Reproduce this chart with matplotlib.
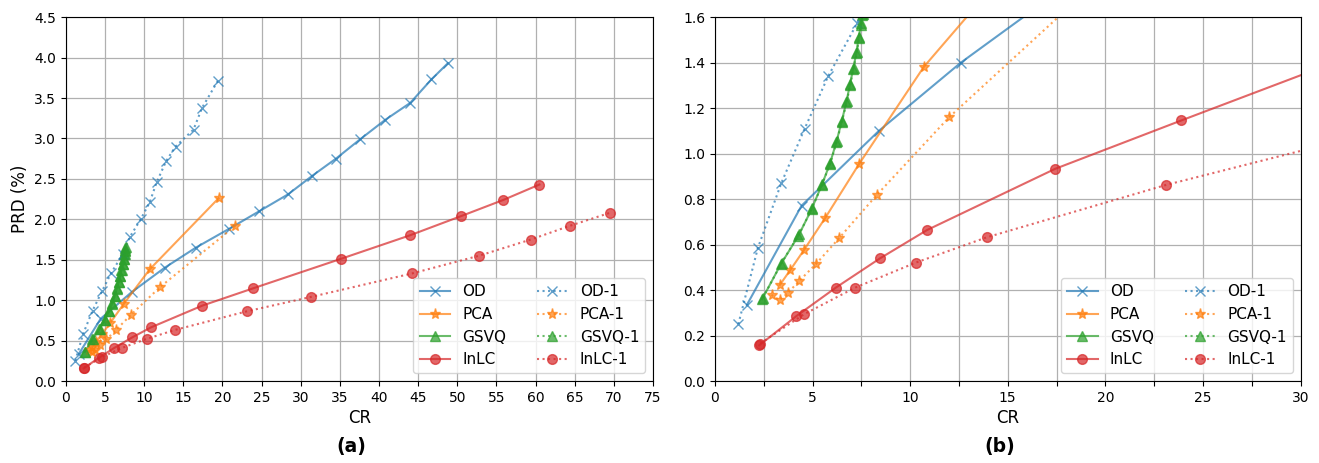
import matplotlib
matplotlib.use("Agg")
import matplotlib.pyplot as plt
from matplotlib.ticker import MultipleLocator, FuncFormatter

# ---- data (CR, PRD %) ----
od_cr = [1.64, 4.44, 8.4, 12.6, 16.6, 20.8, 24.7, 28.4, 31.5, 34.5, 37.6, 40.8, 44.0, 46.7, 48.8]
od_prd = [0.335, 0.771, 1.10, 1.40, 1.65, 1.88, 2.10, 2.31, 2.54, 2.75, 2.99, 3.23, 3.44, 3.73, 3.93]

od1_cr = [1.2, 2.2, 3.4, 4.6, 5.8, 7.3, 8.15, 9.55, 10.7, 11.6, 12.8, 14.0, 16.3, 17.4, 19.4]
od1_prd = [0.25, 0.585, 0.87, 1.11, 1.34, 1.575, 1.78, 2.0, 2.21, 2.46, 2.72, 2.90, 3.11, 3.38, 3.71]

pca_cr = [3.33, 3.86, 4.57, 5.65, 7.39, 10.7, 19.5]
pca_prd = [0.423, 0.488, 0.577, 0.717, 0.955, 1.381, 2.26]

pca1_cr = [2.90, 3.31, 3.75, 4.33, 5.17, 6.37, 8.29, 12.0, 21.65]
pca1_prd = [0.379, 0.355, 0.389, 0.441, 0.514, 0.629, 0.818, 1.16, 1.92]

gsvq_cr = [2.42, 3.38, 4.28, 4.95, 5.48, 5.89, 6.22, 6.49, 6.73, 6.91, 7.08, 7.25, 7.36, 7.48, 7.55, 7.6]
gsvq_prd = [0.36, 0.514, 0.639, 0.755, 0.863, 0.955, 1.05, 1.14, 1.225, 1.30, 1.372, 1.443, 1.508, 1.567, 1.61, 1.65]

gsvq1_cr = [2.45, 3.42, 4.31, 4.98, 5.51, 5.92, 6.25, 6.52, 6.76, 6.94, 7.11, 7.28, 7.39, 7.50, 7.57, 7.62]
gsvq1_prd = [0.365, 0.52, 0.645, 0.76, 0.868, 0.96, 1.055, 1.145, 1.23, 1.305, 1.378, 1.448, 1.513, 1.572, 1.615, 1.655]

inlc_cr = [2.27, 4.18, 6.20, 8.45, 10.87, 17.43, 23.9, 35.1, 43.9, 50.5, 55.9, 60.5]
inlc_prd = [0.157, 0.286, 0.411, 0.539, 0.664, 0.933, 1.146, 1.51, 1.80, 2.04, 2.24, 2.43]

inlc1_cr = [2.32, 4.57, 7.19, 10.3, 13.93, 23.1, 31.3, 44.2, 52.8, 59.4, 64.4, 69.5]
inlc1_prd = [0.165, 0.294, 0.411, 0.521, 0.632, 0.862, 1.04, 1.33, 1.55, 1.75, 1.92, 2.08]

series = [
    ("OD", od_cr, od_prd, "tab:blue", "x", "-"),
    ("PCA", pca_cr, pca_prd, "tab:orange", "*", "-"),
    ("GSVQ", gsvq_cr, gsvq_prd, "tab:green", "^", "-"),
    ("InLC", inlc_cr, inlc_prd, "tab:red", "o", "-"),
    ("OD-1", od1_cr, od1_prd, "tab:blue", "x", ":"),
    ("PCA-1", pca1_cr, pca1_prd, "tab:orange", "*", ":"),
    ("GSVQ-1", gsvq1_cr, gsvq1_prd, "tab:green", "^", ":"),
    ("InLC-1", inlc1_cr, inlc1_prd, "tab:red", "o", ":"),
]

fig = plt.figure(figsize=(13.19, 4.63), dpi=100)
ax1 = fig.add_axes([0.050, 0.177, 0.445, 0.786])
ax2 = fig.add_axes([0.542, 0.177, 0.444, 0.786])


def draw(ax):
    for lab, x, y, c, m, ls in series:
        ms = 8 if m == "*" else 7
        ax.plot(x, y, color=c, marker=m, linestyle=ls, label=lab,
                alpha=0.7, markersize=ms, linewidth=1.5)
    ax.grid(True, which="both", color="#b0b0b0", linewidth=0.9)
    ax.set_xlabel("CR", fontsize=12, labelpad=3)
    ax.tick_params(labelsize=10)
    ax.legend(loc="lower right", ncol=2, fontsize=11, columnspacing=2.0,
              framealpha=0.8)


draw(ax1)
ax1.set_xlim(0, 75)
ax1.set_ylim(0, 4.5)
ax1.xaxis.set_major_locator(MultipleLocator(5))
ax1.yaxis.set_major_locator(MultipleLocator(0.5))
ax1.yaxis.set_major_formatter(FuncFormatter(lambda v, p: f"{v:.1f}"))
ax1.set_ylabel("PRD (%)", fontsize=12)

draw(ax2)
ax2.set_xlim(0, 30)
ax2.set_ylim(0, 1.6)
ax2.xaxis.set_major_locator(MultipleLocator(2.5))
ax2.xaxis.set_major_formatter(
    FuncFormatter(lambda v, p: f"{int(round(v))}" if abs(v / 5 - round(v / 5)) < 1e-6 else ""))
ax2.yaxis.set_major_locator(MultipleLocator(0.2))
ax2.yaxis.set_major_formatter(FuncFormatter(lambda v, p: f"{v:.1f}"))

fig.text(0.2667, 0.035, "(a)", ha="center", va="center", fontsize=13.5, fontweight="bold")
fig.text(0.758, 0.035, "(b)", ha="center", va="center", fontsize=13.5, fontweight="bold")

fig.savefig("out.png", dpi=100)
